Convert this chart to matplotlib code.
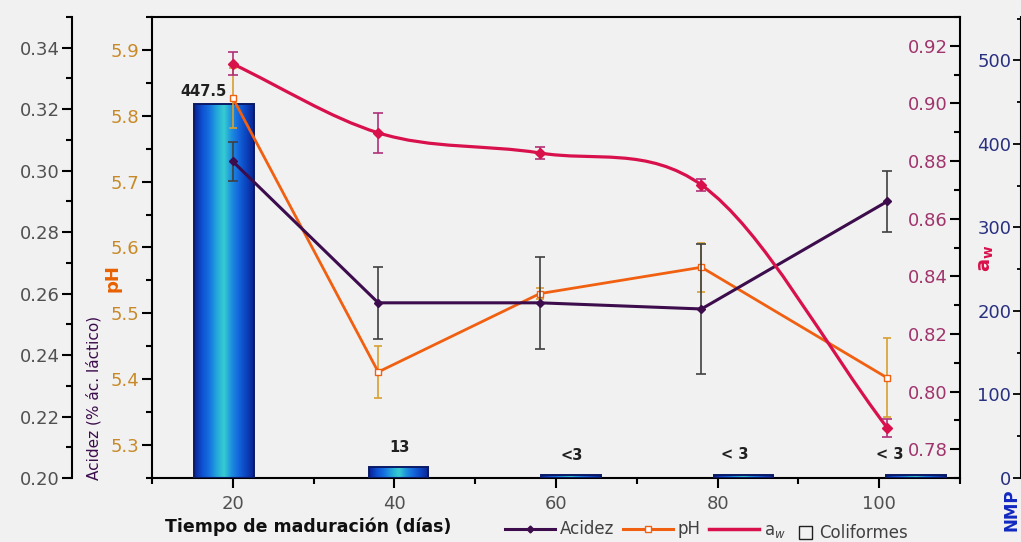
import numpy as np
import matplotlib
matplotlib.use('Agg')
import matplotlib.pyplot as plt
from matplotlib.path import Path
from matplotlib.patches import PathPatch, Patch
from matplotlib.lines import Line2D
from matplotlib.ticker import MultipleLocator, FormatStrFormatter
from matplotlib.colors import LinearSegmentedColormap

# datos
dias = [20, 38, 58, 78, 101]
acidez = [0.303, 0.257, 0.257, 0.255, 0.290]
acidez_err = [0.0063, 0.0117, 0.015, 0.0213, 0.0098]
ph = [5.827, 5.411, 5.530, 5.570, 5.402]
ph_err = [0.045, 0.040, 0.008, 0.037, 0.060]
aw = [0.9137, 0.8898, 0.8828, 0.8717, 0.7874]
aw_err = [0.004, 0.007, 0.002, 0.002, 0.003]

# coliformes (NMP), barras algo desplazadas respecto a los dias
nmp_dias = [18.9, 40.5, 61.9, 83.2, 104.6]
nmp = [447.5, 13, 3, 3, 3]
nmp_etiquetas = ['447.5', '13', '<3', '< 3', '< 3']
# desplazamiento de las etiquetas (puntos)
etiq_dx = [-15, 1, 0, -6, -19]
etiq_dy = [4, 9, 9, 10, 10]

C_AC = '#3c0c4c'
C_PH = '#f06010'
C_AW = '#d8104c'
C_NMP = '#283080'
FONDO = '#f1f1f1'

plt.rcParams['font.family'] = 'DejaVu Sans'

fig = plt.figure(figsize=(10.21, 5.42), dpi=100, facecolor=FONDO)
ax0 = fig.add_axes([152/1021, 1-478/542, 808/1021, 461/542])
ax0.set_facecolor(FONDO)
ax_ph = ax0.twinx()
ax_ac = ax0.twinx()
ax_aw = ax0.twinx()

# barras con degradado
cmap_barra = LinearSegmentedColormap.from_list('barra', [
    '#0a2496', '#0e4fd0', '#1670e0', '#22a6da', '#36cdd2', '#1e90de',
    '#1466dc', '#0c44c0', '#0a2490'])
barras = ax0.bar(nmp_dias, nmp, width=7.4, facecolor='none',
                 edgecolor='#0a1a66', linewidth=1.4, zorder=3)
grad = np.linspace(0, 1, 64).reshape(1, -1)
for r in barras:
    x0 = r.get_x()
    im = ax0.imshow(grad, cmap=cmap_barra, aspect='auto', zorder=2,
                    extent=[x0, x0 + r.get_width(), 0, r.get_height()])
    im.set_clip_path(r)
for r, t, dx, dy in zip(barras, nmp_etiquetas, etiq_dx, etiq_dy):
    ax0.annotate(t, (r.get_x() + r.get_width()/2, r.get_height()),
                 xytext=(dx, dy), textcoords='offset points', ha='center',
                 va='bottom', fontsize=10.5, fontweight='bold', color='#202020')

ax0.set_xlim(10, 110)
ax0.set_ylim(0, 552)
ax0.xaxis.set_major_locator(MultipleLocator(20))
ax0.xaxis.set_minor_locator(MultipleLocator(10))
ax0.tick_params(axis='x', which='major', length=7, width=1.5, labelsize=13,
                labelcolor='#505050', pad=5)
ax0.tick_params(axis='x', which='minor', length=4, width=1.5)

# eje NMP a la derecha del todo
ax0.spines['left'].set_position(('axes', 1.0755))
ax0.spines['right'].set_visible(False)
ax0.yaxis.set_ticks_position('left')
ax0.yaxis.set_major_locator(MultipleLocator(100))
ax0.yaxis.set_minor_locator(MultipleLocator(50))
ax0.tick_params(axis='y', which='major', length=6, width=1.3, labelsize=13,
                labelcolor=C_NMP, pad=1)
ax0.tick_params(axis='y', which='minor', length=3, width=1.3)
for s in ['top', 'bottom', 'left']:
    ax0.spines[s].set_linewidth(1.5)

# pH
ax_ph.errorbar(dias, ph, yerr=ph_err, color=C_PH, lw=2, marker='s', ms=5,
               mfc='white', mec=C_PH, ecolor='#d8a030', elinewidth=1.2,
               capsize=3, capthick=1.2, zorder=3)
ax_ph.set_ylim(5.25, 5.95)
ax_ph.yaxis.set_major_locator(MultipleLocator(0.1))
ax_ph.yaxis.set_minor_locator(MultipleLocator(0.05))
ax_ph.yaxis.set_major_formatter(FormatStrFormatter('%.1f'))

# Acidez
ax_ac.errorbar(dias, acidez, yerr=acidez_err, color=C_AC, lw=2.2, marker='D',
               ms=4, ecolor='#404040', elinewidth=1.2, capsize=3.5,
               capthick=1.2, zorder=3)
ax_ac.set_ylim(0.20, 0.35)
ax_ac.spines['left'].set_position(('axes', -0.099))
ax_ac.yaxis.set_major_locator(MultipleLocator(0.02))
ax_ac.yaxis.set_minor_locator(MultipleLocator(0.01))
ax_ac.yaxis.set_major_formatter(FormatStrFormatter('%.2f'))

# a_w: linea suavizada (hermite en x, como bezier) y marcadores
xs = np.array(dias, dtype=float)
ys = np.array(aw)
m = np.gradient(ys, xs)
verts = [(xs[0], ys[0])]
codes = [Path.MOVETO]
for i in range(len(xs) - 1):
    h = xs[i+1] - xs[i]
    verts += [(xs[i] + h/3, ys[i] + m[i]*h/3),
              (xs[i+1] - h/3, ys[i+1] - m[i+1]*h/3),
              (xs[i+1], ys[i+1])]
    codes += [Path.CURVE4]*3
ax_aw.add_patch(PathPatch(Path(verts, codes), facecolor='none',
                          edgecolor=C_AW, lw=2.3, zorder=3))
ax_aw.errorbar(dias, aw, yerr=aw_err, fmt='D', color=C_AW, ms=5,
               ecolor='#b03078', elinewidth=1.2, capsize=3.5, capthick=1.2,
               zorder=4)
ax_aw.set_ylim(0.77, 0.93)
ax_aw.spines['left'].set_position(('axes', 1.0))
ax_aw.yaxis.set_major_locator(MultipleLocator(0.02))
ax_aw.yaxis.set_minor_locator(MultipleLocator(0.01))
ax_aw.yaxis.set_major_formatter(FormatStrFormatter('%.2f'))

for a, col in [(ax_ph, '#c88a28'), (ax_ac, '#505050'), (ax_aw, '#a0346c')]:
    a.set_xlim(10, 110)
    a.yaxis.set_ticks_position('left')
    for s in ['top', 'bottom', 'right']:
        a.spines[s].set_visible(False)
    a.spines['left'].set_linewidth(1.5)
    a.tick_params(axis='y', which='major', length=7, width=1.5, labelsize=13,
                  labelcolor=col, pad=2)
    a.tick_params(axis='y', which='minor', length=4, width=1.5)

# titulos de ejes
fig.text(94/1021, 1-398/542, 'Acidez (% ác. láctico)', rotation=90,
         ha='center', va='center', fontsize=11, color=C_AC)
fig.text(112/1021, 1-278/542, 'pH', rotation=90, ha='center', va='center',
         fontsize=13, fontweight='bold', color='#e86000')
fig.text(986/1021, 1-258/542, 'a$_\\mathbf{w}$', rotation=90, ha='center',
         va='center', fontsize=14, fontweight='bold', color=C_AW)
fig.text(1011/1021, 1-510/542, 'NMP', rotation=90, ha='center', va='center',
         fontsize=12, fontweight='bold', color='#1028c0')
fig.text(165/1021, 1-527/542, 'Tiempo de maduración (días)', ha='left',
         va='center', fontsize=12.5, fontweight='bold', color='#101010')

# leyenda
handles = [
    Line2D([], [], color=C_AC, lw=2.2, marker='D', ms=3.5),
    Line2D([], [], color=C_PH, lw=2.2, marker='s', ms=4, mfc='white'),
    Line2D([], [], color=C_AW, lw=2.5),
]
fig.legend(handles, ['Acidez', 'pH', 'a$_w$'], ncol=3,
           loc='center left', bbox_to_anchor=(490/1021, 1-530/542),
           frameon=False, fontsize=12, handlelength=3, handletextpad=0.3,
           columnspacing=0.5, labelcolor='#404040')
fig.legend([Patch(facecolor='none', edgecolor='#202020', lw=1)],
           ['Coliformes'], loc='center left',
           bbox_to_anchor=(784/1021, 1-533/542), frameon=False, fontsize=12,
           handlelength=0.8, handleheight=0.8, handletextpad=0.4,
           labelcolor='#404040')

fig.savefig('out.png', dpi=100, facecolor=FONDO)
